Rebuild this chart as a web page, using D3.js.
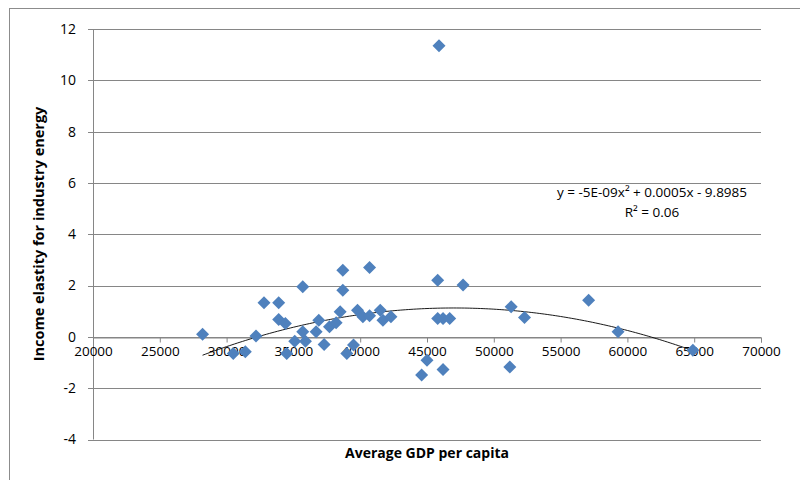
<!DOCTYPE html>
<html>
<head>
<meta charset="utf-8">
<script src="https://cdn.jsdelivr.net/npm/d3@7"></script>
<style>
  body { margin: 0; background: #fff; }
  text { font-family: "Open Sans", "DejaVu Sans", sans-serif; }
</style>
</head>
<body>
<div id="chart"></div>
<script>
// Data
var gdp = [28200, 30500, 31400, 32200, 32800, 33900, 33900, 34400, 34500, 35100,
           35700, 35700, 35900, 36700, 36900, 37300, 37700, 38200, 38500, 38700,
           38700, 39000, 39500, 39800, 40200, 40700, 40700, 41500, 41700, 42300,
           44600, 45000, 45800, 45800, 45900, 46200, 46200, 46700, 47700, 51200,
           51300, 52300, 57100, 59300, 64900];
var elasticity = [0.1, -0.65, -0.58, 0.03, 1.33, 1.33, 0.68, 0.52, -0.65, -0.17,
                  1.95, 0.2, -0.17, 0.2, 0.65, -0.3, 0.39, 0.55, 0.98, 2.6,
                  1.82, -0.65, -0.32, 1.04, 0.78, 2.7, 0.82, 1.04, 0.65, 0.78,
                  -1.49, -0.91, 2.21, 0.72, 11.35, 0.72, -1.27, 0.72, 2.02, -1.17,
                  1.17, 0.76, 1.43, 0.2, -0.52];
var trendCoef = [-5.2e-9, 4.89e-4, -10.37];   // a, b, c of the poly trendline
var xTicks = [20000, 25000, 30000, 35000, 40000, 45000, 50000, 55000, 60000, 65000, 70000];
var yTicks = [-4, -2, 0, 2, 4, 6, 8, 10, 12];
var eqLines = ["y = -5E-09x\u00b2 + 0.0005x - 9.8985", "R\u00b2 = 0.06"];

var W = 800, H = 480;
var svg = d3.select("#chart").append("svg").attr("width", W).attr("height", H);

// chart area border
svg.append("rect").attr("x", 9.5).attr("y", 8.5).attr("width", 800).attr("height", 480)
  .attr("fill", "none").attr("stroke", "#8c8c8c").attr("stroke-width", 1);

var x = d3.scaleLinear().domain([20000, 70000]).range([93, 761]);
var y = d3.scaleLinear().domain([-4, 12]).range([439.5, 29]);

// horizontal gridlines
svg.append("g").selectAll("line").data(yTicks).join("line")
  .attr("x1", 88).attr("x2", x(70000))
  .attr("y1", function(d) { return Math.round(y(d)) + 0.5; })
  .attr("y2", function(d) { return Math.round(y(d)) + 0.5; })
  .attr("stroke", "#868686").attr("stroke-width", 1);

// vertical axis line
svg.append("line").attr("x1", 93.5).attr("x2", 93.5).attr("y1", y(12)).attr("y2", y(-4))
  .attr("stroke", "#868686");

// y labels
svg.append("g").selectAll("text").data(yTicks).join("text")
  .attr("x", 76).attr("y", function(d) { return y(d); })
  .attr("dy", "0.35em").attr("text-anchor", "end")
  .attr("font-size", 14).attr("fill", "#000")
  .text(function(d) { return d; });

// x axis on y = 0, ticks below
var xAxis = d3.axisBottom(x).tickValues(xTicks).tickSize(5).tickPadding(4)
  .tickFormat(function(d) { return d; });
var gx = svg.append("g").attr("transform", "translate(0," + (Math.round(y(0)) + 0.5) + ")").call(xAxis);
gx.select(".domain").attr("stroke", "#868686");
gx.selectAll(".tick line").attr("stroke", "#868686");
gx.selectAll(".tick text").attr("font-size", 13.5).attr("fill", "#000")
  .attr("font-family", "\"Open Sans\", sans-serif");

// trendline
var tr = d3.range(d3.min(gdp), d3.max(gdp) + 1, 200);
var line = d3.line()
  .x(function(d) { return x(d); })
  .y(function(d) { return y(trendCoef[0] * d * d + trendCoef[1] * d + trendCoef[2]); });
svg.append("path").datum(tr).attr("d", line)
  .attr("fill", "none").attr("stroke", "#000").attr("stroke-width", 0.9);

// diamond markers
var s = 6.5;
svg.append("g").selectAll("path").data(gdp).join("path")
  .attr("transform", function(d, i) { return "translate(" + x(d) + "," + y(elasticity[i]) + ")"; })
  .attr("d", "M0," + (-s) + "L" + s + ",0L0," + s + "L" + (-s) + ",0Z")
  .attr("fill", "#4f81bd");

// equation label
svg.append("g").selectAll("text").data(eqLines).join("text")
  .attr("x", 652).attr("y", function(d, i) { return 197 + i * 20; })
  .attr("text-anchor", "middle").attr("font-size", 13.5).attr("fill", "#000")
  .text(function(d) { return d; });

// axis titles
svg.append("text").attr("x", 427).attr("y", 458).attr("text-anchor", "middle")
  .attr("font-size", 14).attr("font-weight", "bold").text("Average GDP per capita");
svg.append("text").attr("transform", "translate(44,234) rotate(-90)")
  .attr("text-anchor", "middle").attr("font-size", 14.5).attr("font-weight", "bold")
  .text("Income elastity for industry energy");
</script>
</body>
</html>
